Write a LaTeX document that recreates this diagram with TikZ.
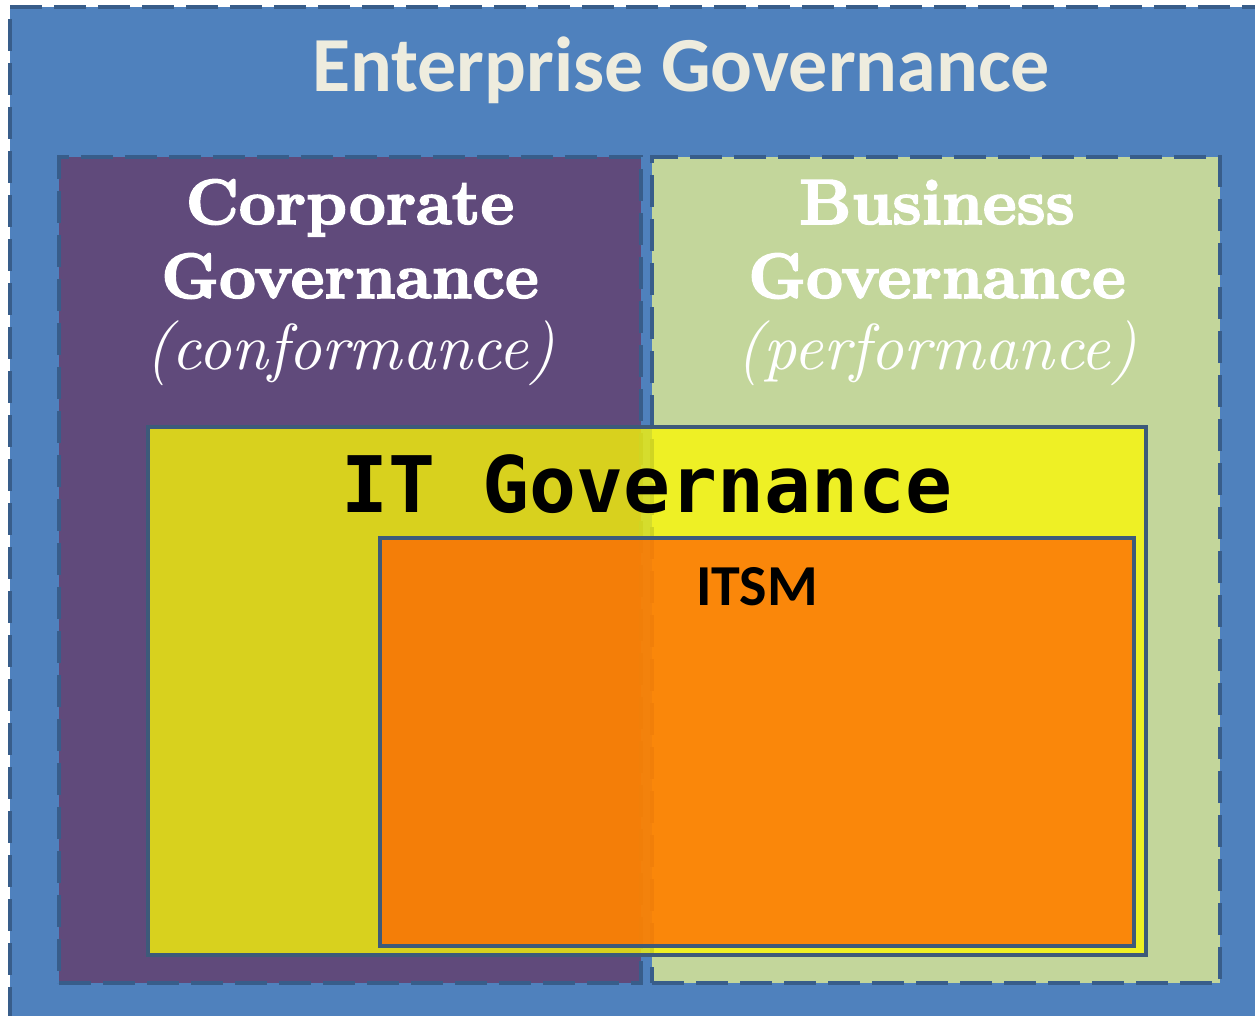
\documentclass[tikz,border=0pt]{standalone}
\usepackage{fontspec}
\newfontfamily\carlito{Carlito}
\newfontfamily\dvmono{DejaVu Sans Mono}
\newfontfamily\cgserif{lmroman10-regular.otf}[BoldFont=lmroman10-bold.otf,ItalicFont=lmroman10-italic.otf,BoldFeatures={FakeBold=2.5}]
\definecolor{egblue}{RGB}{79,129,189}
\definecolor{egedge}{RGB}{56,93,138}
\definecolor{cgpurple}{RGB}{96,74,123}
\definecolor{bggreen}{RGB}{195,214,155}
\definecolor{ityellow}{RGB}{251,248,5}
\definecolor{itsmorange}{RGB}{255,95,0}
\definecolor{boxedge}{RGB}{61,90,122}
\definecolor{cream}{RGB}{238,236,222}
\begin{document}
\begin{tikzpicture}[x=1pt,y=-1pt,
  area/.style={anchor=north west,inner sep=0pt,outer sep=0pt,rectangle},
  dashedge/.style={draw=egedge,line width=4.5pt,dash pattern=on 32pt off 12pt},
  solidedge/.style={draw=boxedge,line width=3.5pt},
  serifhead/.style={anchor=base,inner sep=0pt,text=white,font=\cgserif\fontsize{64}{74}\selectfont\bfseries},
  serifsub/.style={anchor=base,inner sep=0pt,text=white,font=\cgserif\fontsize{65}{75}\selectfont\itshape}]
\useasboundingbox (0,0) rectangle (1255,1016);
\fill[white] (0,0) rectangle (1255,1016);
\clip (0,0) rectangle (1255,1016);
% outer enterprise box
\node[area,fill=egblue,dashedge,minimum width=1300pt,minimum height=1040pt] (eg) at (10,7) {};
% corporate governance
\node[area,fill=cgpurple,dashedge,line width=4pt,minimum width=582pt,minimum height=826pt] (cg) at (59,157) {};
% business governance
\node[area,fill=bggreen,dashedge,line width=4pt,minimum width=568pt,minimum height=826pt] (bg) at (652,157) {};
% IT governance
\node[area,fill=ityellow,fill opacity=0.78,solidedge,minimum width=998pt,minimum height=528pt] (itg) at (148,427) {};
% ITSM
\node[area,fill=itsmorange,fill opacity=0.72,solidedge,minimum width=754pt,minimum height=408pt] (itsm) at (380,538) {};
% texts
\node[anchor=base,inner sep=0pt,text=cream,font=\carlito\bfseries\fontsize{78}{90}\selectfont] (egt) at (681,92) {Enterprise Governance};
\node[serifhead] (cg1) at (350,224) {Corporate};
\node[serifhead] (cg2) at (350,298) {Governance};
\node[serifsub] (cg3) at (350,369) {(conformance)};
\node[serifhead] (bg1) at (937,224) {Business};
\node[serifhead] (bg2) at (937,298) {Governance};
\node[serifsub] (bg3) at (937,369) {(performance)};
\node[anchor=base,inner sep=0pt,text=black,font=\dvmono\bfseries\fontsize{78}{90}\selectfont] (itgt) at (647,512) {IT Governance};
\node[anchor=base,inner sep=0pt,text=black,font=\carlito\bfseries\fontsize{58}{70}\selectfont] (itsmt) at (757,605) {ITSM};
\end{tikzpicture}
\end{document}
